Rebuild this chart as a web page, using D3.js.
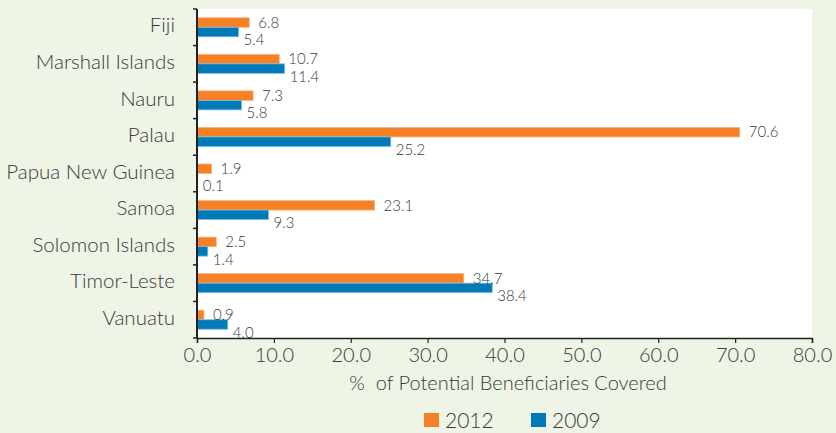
<!DOCTYPE html>
<html>
<head>
<meta charset="utf-8">
<script src="https://cdn.jsdelivr.net/npm/d3@7"></script>
<style>
  body { margin: 0; background: #eef4e6; }
  svg { display: block; font-family: "Lato", "Open Sans", sans-serif; font-weight: 300; }
  text { fill: #3a3a3a; }
</style>
</head>
<body>
<div id="grafico"></div>
<script>
var paises = ["Fiji", "Marshall Islands", "Nauru", "Palau", "Papua New Guinea", "Samoa", "Solomon Islands", "Timor-Leste", "Vanuatu"];
var datos2012 = [6.8, 10.7, 7.3, 70.6, 1.9, 23.1, 2.5, 34.7, 0.9];
var datos2009 = [5.4, 11.4, 5.8, 25.2, 0.1, 9.3, 1.4, 38.4, 4.0];
var ticksX = [0, 10, 20, 30, 40, 50, 60, 70, 80];
var series = ["2012", "2009"];

function graficarBarras(){
	var width = 836;
	var height = 433;
	var colores = {"2012": "#f58025", "2009": "#0079b8"};
	var bordes = {"2012": "#fbb27a", "2009": "#7dbde0"};

	var svg = d3.select("#grafico")
				.append("svg")
				.attr("width", width)
				.attr("height", height);

	var x = d3.scaleLinear().domain([0, 80]).range([197, 812]);
	var y = d3.scaleBand().domain(paises).range([9, 338]);
	var bw = y.bandwidth();
	var barH = bw * 0.26;

	// fondo blanco del area de grafico
	svg.append("rect")
		.attr("x", x(0))
		.attr("y", y.range()[0])
		.attr("width", x(80) - x(0))
		.attr("height", y.range()[1] - y.range()[0])
		.attr("fill", "#ffffff");

	var filas = paises.map(function(p, i){
		return {pais: p, v2012: datos2012[i], v2009: datos2009[i]};
	});

	var g = svg.selectAll(".fila")
				.data(filas)
				.enter()
				.append("g")
				.attr("class", "fila")
				.attr("transform", function(d){ return "translate(0," + y(d.pais) + ")"; });

	var top = (bw - 2 * barH) / 2;

	g.append("rect")
		.attr("x", x(0))
		.attr("y", top)
		.attr("width", function(d){ return x(d.v2012) - x(0); })
		.attr("height", barH)
		.attr("fill", colores["2012"])
		.attr("stroke", bordes["2012"])
		.attr("stroke-width", 0.8);

	g.append("rect")
		.attr("x", x(0))
		.attr("y", top + barH)
		.attr("width", function(d){ return x(d.v2009) - x(0); })
		.attr("height", barH)
		.attr("fill", colores["2009"])
		.attr("stroke", bordes["2009"])
		.attr("stroke-width", 0.8);

	g.append("text")
		.attr("x", function(d){ return x(d.v2012) + 9; })
		.attr("y", top + barH / 2)
		.attr("dy", "0.35em")
		.style("font-size", "15px")
		.text(function(d){ return d.v2012.toFixed(1); });

	g.append("text")
		.attr("x", function(d){ return x(d.v2009) + 5; })
		.attr("y", top + barH * 1.5 + 8)
		.attr("dy", "0.35em")
		.style("font-size", "15px")
		.text(function(d){ return d.v2009.toFixed(1); });

	// nombres de paises
	g.append("text")
		.attr("x", 175)
		.attr("y", bw / 2 - 2)
		.attr("dy", "0.35em")
		.attr("text-anchor", "end")
		.style("font-size", "20.5px")
		.text(function(d){ return d.pais; });

	// eje y con ticks en los bordes de cada categoria
	var bordesY = paises.map(function(p){ return y(p); }).concat([y.range()[1]]);
	svg.selectAll(".tickY")
		.data(bordesY)
		.enter()
		.append("line")
		.attr("x1", x(0) - 4)
		.attr("x2", x(0))
		.attr("y1", function(d){ return d; })
		.attr("y2", function(d){ return d; })
		.attr("stroke", "#222")
		.attr("stroke-width", 1.5);

	svg.append("line")
		.attr("x1", x(0))
		.attr("x2", x(0))
		.attr("y1", y.range()[0])
		.attr("y2", y.range()[1])
		.attr("stroke", "#222")
		.attr("stroke-width", 2);

	// eje x
	var ejeX = svg.append("g")
		.attr("transform", "translate(0," + y.range()[1] + ")")
		.call(d3.axisBottom(x).tickValues(ticksX).tickSize(5).tickPadding(5).tickFormat(d3.format(".1f")));
	ejeX.select(".domain").attr("stroke", "#222").attr("stroke-width", 1.5);
	ejeX.selectAll(".tick line").attr("stroke", "#222").attr("stroke-width", 1.2);
	ejeX.selectAll(".tick text")
		.style("font-size", "20px")
		.style("font-family", "Lato, sans-serif")
		.style("font-weight", "300")
		.attr("fill", "#3a3a3a");

	svg.append("text")
		.attr("x", 508)
		.attr("y", 383)
		.attr("dy", "0.35em")
		.attr("text-anchor", "middle")
		.style("font-size", "20px")
		.text("%\u00a0 of Potential Beneficiaries Covered");

	// leyenda
	var leyenda = svg.selectAll(".leyenda")
		.data(series)
		.enter()
		.append("g")
		.attr("class", "leyenda")
		.attr("transform", function(d, i){ return "translate(" + (424 + i * 107) + ",413)"; });

	leyenda.append("rect")
		.attr("width", 15)
		.attr("height", 14)
		.attr("fill", function(d){ return colores[d]; });

	leyenda.append("text")
		.attr("x", 21)
		.attr("y", 8)
		.attr("dy", "0.35em")
		.style("font-size", "21px")
		.text(function(d){ return d; });
}

graficarBarras();
</script>
</body>
</html>
